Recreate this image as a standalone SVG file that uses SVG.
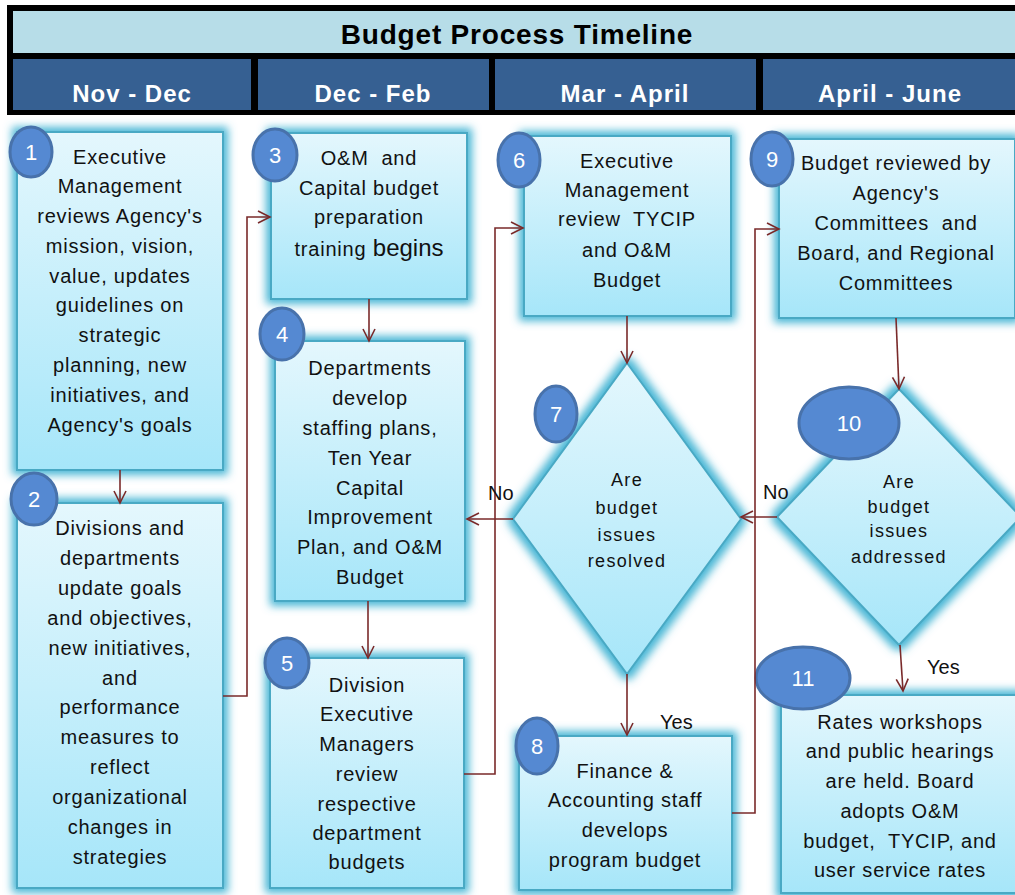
<svg xmlns="http://www.w3.org/2000/svg" width="1015" height="895" viewBox="0 0 1015 895">
<style>
.box{fill:url(#bg);stroke:#4aa9c4;stroke-width:2}
.t{font-family:"Liberation Sans",Arial,sans-serif;font-size:20px;fill:#111;text-anchor:middle;letter-spacing:0.8px;white-space:pre}
.d{font-family:"Liberation Sans",Arial,sans-serif;font-size:18px;fill:#111;text-anchor:middle;letter-spacing:1.3px}
.num{fill:#5589d2;stroke:#4872ab;stroke-width:3}
.nt{font-family:"Liberation Sans",Arial,sans-serif;font-size:22px;fill:#fff;text-anchor:middle}
.lbl{font-family:"Liberation Sans",Arial,sans-serif;font-size:20px;fill:#111}
.hm{font-family:"Liberation Sans",Arial,sans-serif;font-size:24px;font-weight:bold;fill:#fff;text-anchor:middle;letter-spacing:1px}
.c{fill:none;stroke:#7a2a2a;stroke-width:1.6}
</style>
<defs>
<linearGradient id="bg" x1="0" y1="0" x2="0" y2="1">
<stop offset="0" stop-color="#e4f7fd"/>
<stop offset="1" stop-color="#a6e6f9"/>
</linearGradient>
<filter id="glow" x="-20%" y="-20%" width="140%" height="140%">
<feMorphology in="SourceAlpha" operator="dilate" radius="4" result="d"/>
<feGaussianBlur in="d" stdDeviation="4" result="b"/>
<feFlood flood-color="#48b6d5" flood-opacity="1"/>
<feComposite in2="b" operator="in" result="g"/>
<feMerge><feMergeNode in="g"/><feMergeNode in="SourceGraphic"/></feMerge>
</filter>
<marker id="ah" markerUnits="userSpaceOnUse" markerWidth="16" markerHeight="16" refX="13" refY="7" orient="auto">
<path d="M1,1 L13,7 L1,13" fill="none" stroke="#7a2a2a" stroke-width="1.6"/>
</marker>
</defs>
<rect width="1015" height="895" fill="#fff"/>
<g id="header">
<rect x="7" y="5" width="1020" height="110" fill="#000"/>
<rect x="13" y="11" width="1010" height="42" fill="#b7dde8"/>
<text x="517" y="44" font-family="'Liberation Sans',Arial,sans-serif" font-size="28" font-weight="bold" text-anchor="middle" letter-spacing="0.8" fill="#000">Budget Process Timeline</text>
<rect x="13" y="59" width="238" height="51" fill="#366092"/>
<rect x="258" y="59" width="231" height="51" fill="#366092"/>
<rect x="495" y="59" width="261" height="51" fill="#366092"/>
<rect x="763" y="59" width="260" height="51" fill="#366092"/>
<text class="hm" x="132" y="102">Nov - Dec</text>
<text class="hm" x="373" y="102">Dec - Feb</text>
<text class="hm" x="625" y="102">Mar - April</text>
<text class="hm" x="890" y="102">April - June</text>
</g>
<g id="n1">
<rect class="box" x="17" y="132" width="206" height="338" filter="url(#glow)"/>
<text class="t" x="120" y="164">Executive</text>
<text class="t" x="120" y="193">Management</text>
<text class="t" x="120" y="223">reviews Agency's</text>
<text class="t" x="120" y="253">mission, vision,</text>
<text class="t" x="120" y="283">value, updates</text>
<text class="t" x="120" y="312">guidelines on</text>
<text class="t" x="120" y="342">strategic</text>
<text class="t" x="120" y="372">planning, new</text>
<text class="t" x="120" y="402">initiatives, and</text>
<text class="t" x="120" y="432">Agency's goals</text>
<ellipse class="num" cx="31" cy="152" rx="21" ry="25"/>
<text class="nt" x="31" y="160">1</text>
</g>
<g id="n2">
<rect class="box" x="17" y="503" width="206" height="385" filter="url(#glow)"/>
<text class="t" x="120" y="535">Divisions and</text>
<text class="t" x="120" y="565">departments</text>
<text class="t" x="120" y="595">update goals</text>
<text class="t" x="120" y="625">and objectives,</text>
<text class="t" x="120" y="655">new initiatives,</text>
<text class="t" x="120" y="685">and</text>
<text class="t" x="120" y="714">performance</text>
<text class="t" x="120" y="744">measures to</text>
<text class="t" x="120" y="774">reflect</text>
<text class="t" x="120" y="804">organizational</text>
<text class="t" x="120" y="834">changes in</text>
<text class="t" x="120" y="864">strategies</text>
<ellipse class="num" cx="34" cy="499" rx="23" ry="26"/>
<text class="nt" x="34" y="507">2</text>
</g>
<g id="n3">
<rect class="box" x="271" y="133" width="196" height="166" filter="url(#glow)"/>
<text class="t" x="369" y="165">O&amp;M  and</text>
<text class="t" x="369" y="195">Capital budget</text>
<text class="t" x="369" y="224">preparation</text>
<text class="t" x="369" y="256">training <tspan font-size="24" letter-spacing="0">begins</tspan></text>
<ellipse class="num" cx="275" cy="155" rx="22" ry="26"/>
<text class="nt" x="275" y="163">3</text>
</g>
<g id="n4">
<rect class="box" x="275" y="341" width="190" height="260" filter="url(#glow)"/>
<text class="t" x="370" y="375">Departments</text>
<text class="t" x="370" y="405">develop</text>
<text class="t" x="370" y="435">staffing plans,</text>
<text class="t" x="370" y="465">Ten Year</text>
<text class="t" x="370" y="495">Capital</text>
<text class="t" x="370" y="524">Improvement</text>
<text class="t" x="370" y="554">Plan, and O&amp;M</text>
<text class="t" x="370" y="584">Budget</text>
<ellipse class="num" cx="282" cy="334" rx="22" ry="26"/>
<text class="nt" x="282" y="342">4</text>
</g>
<g id="n5">
<rect class="box" x="270" y="658" width="194" height="230" filter="url(#glow)"/>
<text class="t" x="367" y="692">Division</text>
<text class="t" x="367" y="721">Executive</text>
<text class="t" x="367" y="751">Managers</text>
<text class="t" x="367" y="781">review</text>
<text class="t" x="367" y="811">respective</text>
<text class="t" x="367" y="840">department</text>
<text class="t" x="367" y="869">budgets</text>
<ellipse class="num" cx="287" cy="663" rx="22" ry="25"/>
<text class="nt" x="287" y="671">5</text>
</g>
<g id="n6">
<rect class="box" x="524" y="136" width="207" height="180" filter="url(#glow)"/>
<text class="t" x="627" y="168">Executive</text>
<text class="t" x="627" y="197">Management</text>
<text class="t" x="627" y="226">review  TYCIP</text>
<text class="t" x="627" y="257">and O&amp;M</text>
<text class="t" x="627" y="287">Budget</text>
<ellipse class="num" cx="519" cy="160" rx="21" ry="27"/>
<text class="nt" x="519" y="168">6</text>
</g>
<g id="n7">
<polygon class="box" points="627,363 741,519 627,674 513,519" filter="url(#glow)"/>
<text class="d" x="627" y="486">Are</text>
<text class="d" x="627" y="514">budget</text>
<text class="d" x="627" y="541">issues</text>
<text class="d" x="627" y="567">resolved</text>
<ellipse class="num" cx="556" cy="414" rx="21" ry="28"/>
<text class="nt" x="556" y="422">7</text>
</g>
<g id="n8">
<rect class="box" x="519" y="736" width="213" height="154" filter="url(#glow)"/>
<text class="t" x="625" y="778">Finance &amp;</text>
<text class="t" x="625" y="807">Accounting staff</text>
<text class="t" x="625" y="837">develops</text>
<text class="t" x="625" y="867">program budget</text>
<ellipse class="num" cx="537" cy="746" rx="21" ry="28"/>
<text class="nt" x="537" y="754">8</text>
</g>
<g id="n9">
<rect class="box" x="779" y="139" width="236" height="179" filter="url(#glow)"/>
<text class="t" x="896" y="170">Budget reviewed by</text>
<text class="t" x="896" y="200">Agency's</text>
<text class="t" x="896" y="230">Committees  and</text>
<text class="t" x="896" y="260">Board, and Regional</text>
<text class="t" x="896" y="290">Committees</text>
<ellipse class="num" cx="772" cy="159" rx="21" ry="27"/>
<text class="nt" x="772" y="167">9</text>
</g>
<g id="n10">
<polygon class="box" points="899,389 1021,517 899,645 777,517" filter="url(#glow)"/>
<text class="d" x="899" y="488" font-size="17" letter-spacing="1">Are</text>
<text class="d" x="899" y="513" font-size="17" letter-spacing="1">budget</text>
<text class="d" x="899" y="537" font-size="17" letter-spacing="1">issues</text>
<text class="d" x="899" y="563" font-size="17" letter-spacing="1">addressed</text>
<ellipse class="num" cx="849" cy="423" rx="50" ry="36"/>
<text class="nt" x="849" y="431">10</text>
</g>
<g id="n11">
<rect class="box" x="781" y="695" width="240" height="198" filter="url(#glow)"/>
<text class="t" x="900" y="729">Rates workshops</text>
<text class="t" x="900" y="758">and public hearings</text>
<text class="t" x="900" y="788">are held. Board</text>
<text class="t" x="900" y="818">adopts O&amp;M</text>
<text class="t" x="900" y="848">budget,  TYCIP, and</text>
<text class="t" x="900" y="877">user service rates</text>
<ellipse class="num" cx="803" cy="678" rx="47" ry="31"/>
<text class="nt" x="803" y="686">11</text>
</g>
<g id="connectors">
<path class="c" d="M120,470 V503" marker-end="url(#ah)"/>
<path class="c" d="M223,696 H247 V217 H270" marker-end="url(#ah)"/>
<path class="c" d="M369,299 V341" marker-end="url(#ah)"/>
<path class="c" d="M368,601 V658" marker-end="url(#ah)"/>
<path class="c" d="M464,774 H495 V228 H523" marker-end="url(#ah)"/>
<path class="c" d="M627,316 V363" marker-end="url(#ah)"/>
<path class="c" d="M513,519 H467" marker-end="url(#ah)"/>
<path class="c" d="M627,674 V735" marker-end="url(#ah)"/>
<path class="c" d="M732,813 H755 V229 H779" marker-end="url(#ah)"/>
<path class="c" d="M896,318 L899,389" marker-end="url(#ah)"/>
<path class="c" d="M777,517 H741" marker-end="url(#ah)"/>
<path class="c" d="M900,645 L903,691" marker-end="url(#ah)"/>
<text class="lbl" x="488" y="500">No</text>
<text class="lbl" x="763" y="499">No</text>
<text class="lbl" x="660" y="729">Yes</text>
<text class="lbl" x="927" y="674">Yes</text>
</g>
</svg>
